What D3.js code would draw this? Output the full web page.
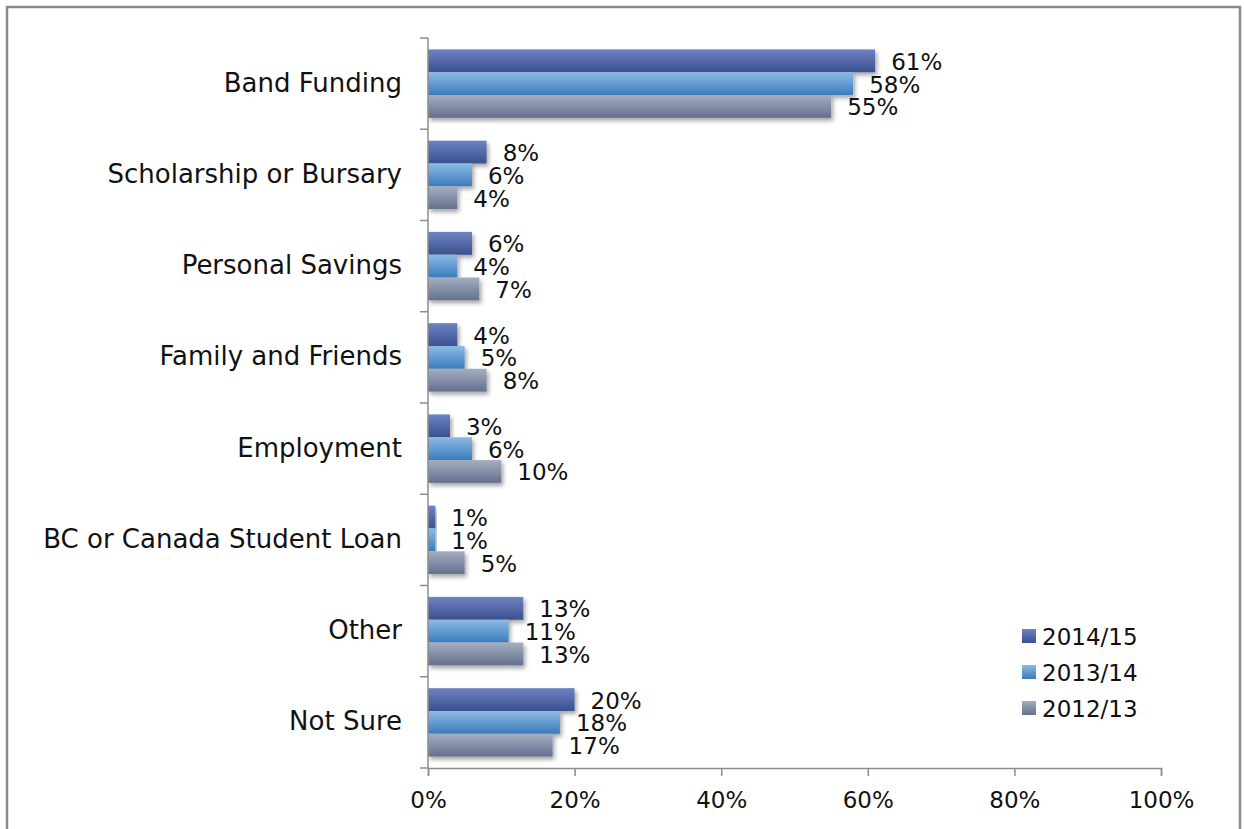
<!DOCTYPE html>
<html>
<head>
    <script src="https://d3js.org/d3.v7.min.js"></script>
    <style>
        body { margin: 0; background: #fff; }
        text { font-family: "DejaVu Sans", sans-serif; fill: #111; }
    </style>
</head>
<body>
    <svg id="chart"></svg>
    <script>
        // Data
        const categories = ["Band Funding", "Scholarship or Bursary", "Personal Savings",
            "Family and Friends", "Employment", "BC or Canada Student Loan", "Other", "Not Sure"];
        const seriesNames = ["2014/15", "2013/14", "2012/13"];
        const values2014 = [61, 8, 6, 4, 3, 1, 13, 20];
        const values2013 = [58, 6, 4, 5, 6, 1, 11, 18];
        const values2012 = [55, 4, 7, 8, 10, 5, 13, 17];
        const xTicks = [0, 20, 40, 60, 80, 100];

        const width = 1244, height = 829;
        const margin = {top: 38, left: 428, right: 83, bottom: 61};
        const fs = "23px";

        const svg = d3.select("#chart")
            .attr("width", width)
            .attr("height", height);

        // outer frame
        svg.append("rect")
            .attr("x", 7).attr("y", 7)
            .attr("width", 1233).attr("height", 840)
            .attr("fill", "none")
            .attr("stroke", "#8a8a8a")
            .attr("stroke-width", 2.5);

        const defs = svg.append("defs");
        const grads = [["#6e83c2", "#3b4f8f"], ["#8cbbe4", "#3b7bbd"], ["#a4aec1", "#64718e"]];
        grads.forEach((g, i) => {
            const lg = defs.append("linearGradient")
                .attr("id", "g" + i).attr("x1", 0).attr("y1", 0).attr("x2", 0).attr("y2", 1);
            lg.append("stop").attr("offset", "0%").attr("stop-color", g[0]);
            lg.append("stop").attr("offset", "100%").attr("stop-color", g[1]);
        });
        const f = defs.append("filter").attr("id", "shadow")
            .attr("x", "-10%").attr("y", "-20%").attr("width", "130%").attr("height", "160%");
        f.append("feDropShadow").attr("dx", 2).attr("dy", 3).attr("stdDeviation", 2)
            .attr("flood-color", "#000").attr("flood-opacity", 0.35);

        const x = d3.scaleLinear().domain([0, 100]).range([margin.left, width - margin.right]);
        const y = d3.scaleBand().domain(categories).range([margin.top, height - margin.bottom])
            .paddingInner(0.25).paddingOuter(0.125);
        const y1 = d3.scaleBand().domain(seriesNames).range([0, y.bandwidth()]);

        const table = categories.map((c, i) => ({
            cat: c,
            vals: [values2014[i], values2013[i], values2012[i]]
        }));

        // bars
        const groups = svg.append("g").selectAll("g")
            .data(table).join("g")
            .attr("transform", d => `translate(0,${y(d.cat)})`);

        groups.selectAll("rect")
            .data(d => d.vals.map((v, i) => ({v, s: seriesNames[i], i})))
            .join("rect")
            .attr("x", x(0))
            .attr("y", d => y1(d.s))
            .attr("width", d => x(d.v) - x(0))
            .attr("height", y1.bandwidth())
            .attr("fill", d => `url(#g${d.i})`)
            .attr("filter", "url(#shadow)");

        groups.selectAll("text")
            .data(d => d.vals.map((v, i) => ({v, s: seriesNames[i]})))
            .join("text")
            .attr("x", d => x(d.v) + 16)
            .attr("y", d => y1(d.s) + y1.bandwidth() / 2 + 9)
            .style("font-size", fs)
            .text(d => d.v + "%");

        // x axis
        const xAxis = svg.append("g")
            .attr("transform", `translate(0,${height - margin.bottom})`)
            .call(d3.axisBottom(x).tickValues(xTicks).tickFormat(d => d + "%").tickSize(8).tickPadding(16));
        xAxis.select(".domain").attr("stroke", "#8c8c8c").attr("stroke-width", 1.5);
        xAxis.selectAll(".tick line").attr("stroke", "#8c8c8c").attr("stroke-width", 1.5);
        xAxis.selectAll("text").style("font-size", fs).attr("fill", "#111")
            .style("font-family", "'DejaVu Sans', sans-serif");

        // y axis
        const yAxisG = svg.append("g");
        yAxisG.append("line")
            .attr("x1", x(0)).attr("x2", x(0))
            .attr("y1", margin.top).attr("y2", height - margin.bottom)
            .attr("stroke", "#8c8c8c").attr("stroke-width", 1.5);
        const step = y.step();
        const bounds = d3.range(categories.length + 1).map(i => margin.top + i * step);
        yAxisG.selectAll(".yt").data(bounds).join("line")
            .attr("x1", x(0) - 8).attr("x2", x(0))
            .attr("y1", d => d).attr("y2", d => d)
            .attr("stroke", "#8c8c8c").attr("stroke-width", 1.5);
        yAxisG.selectAll("text").data(categories).join("text")
            .attr("x", x(0) - 26)
            .attr("y", d => y(d) + y.bandwidth() / 2 + 8)
            .attr("text-anchor", "end")
            .style("font-size", "26px")
            .text(d => d);

        // legend
        const legend = svg.append("g").attr("transform", "translate(1022,629)");
        seriesNames.forEach((s, i) => {
            const row = legend.append("g").attr("transform", `translate(0,${i * 36})`);
            row.append("rect").attr("width", 14).attr("height", 14)
                .attr("fill", `url(#g${i})`);
            row.append("text").attr("x", 20).attr("y", 16)
                .style("font-size", fs).text(s);
        });
    </script>
</body>
</html>
